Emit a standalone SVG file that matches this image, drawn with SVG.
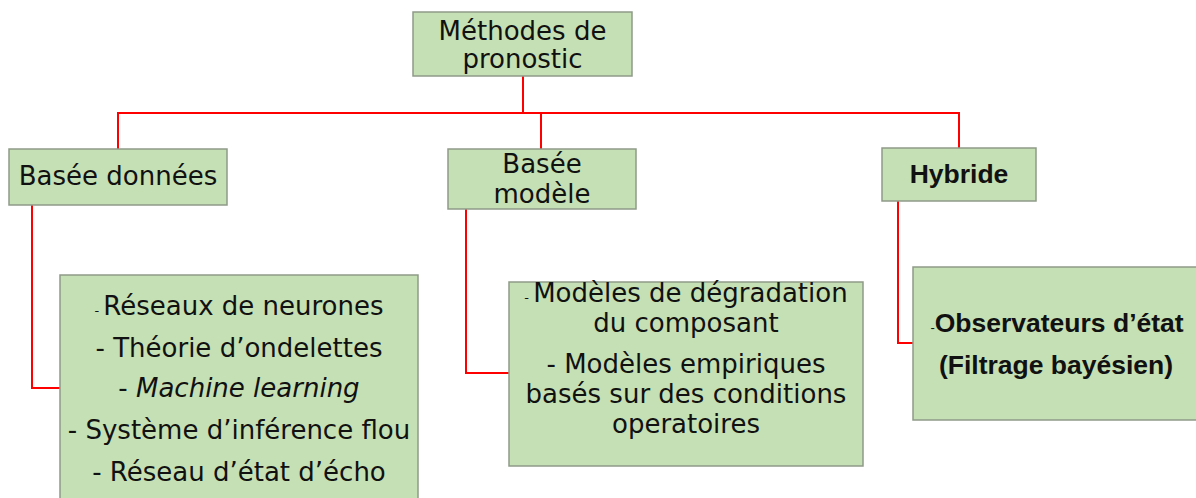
<svg xmlns="http://www.w3.org/2000/svg" width="1196" height="498" viewBox="0 0 1196 498">
<style>
.box{fill:#C5E0B4;stroke:#8E9A88;stroke-width:1.5}
.t{font-family:"DejaVu Sans",sans-serif;font-size:26px;fill:#111;text-anchor:middle}
.b{font-family:"Liberation Sans",Arial,sans-serif;font-weight:bold;font-size:26.5px;fill:#111;text-anchor:middle}
.sm{font-size:13px}
.ln{fill:none;stroke:#FF0000;stroke-width:2}
</style>
<rect width="1196" height="498" fill="#fff"/>
<g id="connectors">
<path class="ln" d="M523,76 V113"/>
<path class="ln" d="M118,149 V113 H960"/>
<path class="ln" d="M541,113 V149"/>
<path class="ln" d="M959,113 V148"/>
<path class="ln" d="M32,205 V388 H60"/>
<path class="ln" d="M466,209 V373 H509"/>
<path class="ln" d="M898,201 V343 H913"/>
</g>
<g id="root">
<rect class="box" x="413" y="12" width="219" height="64"/>
<text class="t" x="522.5" y="40" font-size="25.5">Méthodes de</text>
<text class="t" x="522.5" y="68" font-size="25.5">pronostic</text>
</g>
<g id="basee-donnees">
<rect class="box" x="9" y="149" width="218" height="56"/>
<text class="t" x="118" y="185">Basée données</text>
</g>
<g id="basee-modele">
<rect class="box" x="448" y="149" width="188" height="60"/>
<text class="t" x="542" y="173">Basée</text>
<text class="t" x="542" y="203">modèle</text>
</g>
<g id="hybride">
<rect class="box" x="882" y="148" width="154" height="53"/>
<text class="b" x="959" y="183">Hybride</text>
</g>
<g id="liste-donnees">
<rect class="box" x="60" y="275" width="358" height="230"/>
<text class="t" x="239" y="315"><tspan class="sm">- </tspan>Réseaux de neurones</text>
<text class="t" x="239" y="357">- Théorie d’ondelettes</text>
<text class="t" x="239" y="397">- <tspan font-style="italic">Machine learning</tspan></text>
<text class="t" x="239" y="439">- Système d’inférence flou</text>
<text class="t" x="239" y="481">- Réseau d’état d’écho</text>
</g>
<g id="liste-modele">
<rect class="box" x="509" y="282" width="354" height="184"/>
<text class="t" x="686" y="302"><tspan class="sm">- </tspan>Modèles de dégradation</text>
<text class="t" x="686" y="332">du composant</text>
<text class="t" x="686" y="373">- Modèles empiriques</text>
<text class="t" x="686" y="403">basés sur des conditions</text>
<text class="t" x="686" y="433">operatoires</text>
</g>
<g id="liste-hybride">
<rect class="box" x="913" y="267" width="290" height="153"/>
<text class="b" x="1057" y="332"><tspan font-size="13px" font-weight="normal">-</tspan>Observateurs d’état</text>
<text class="b" x="1056" y="374">(Filtrage bayésien)</text>
</g>
</svg>
